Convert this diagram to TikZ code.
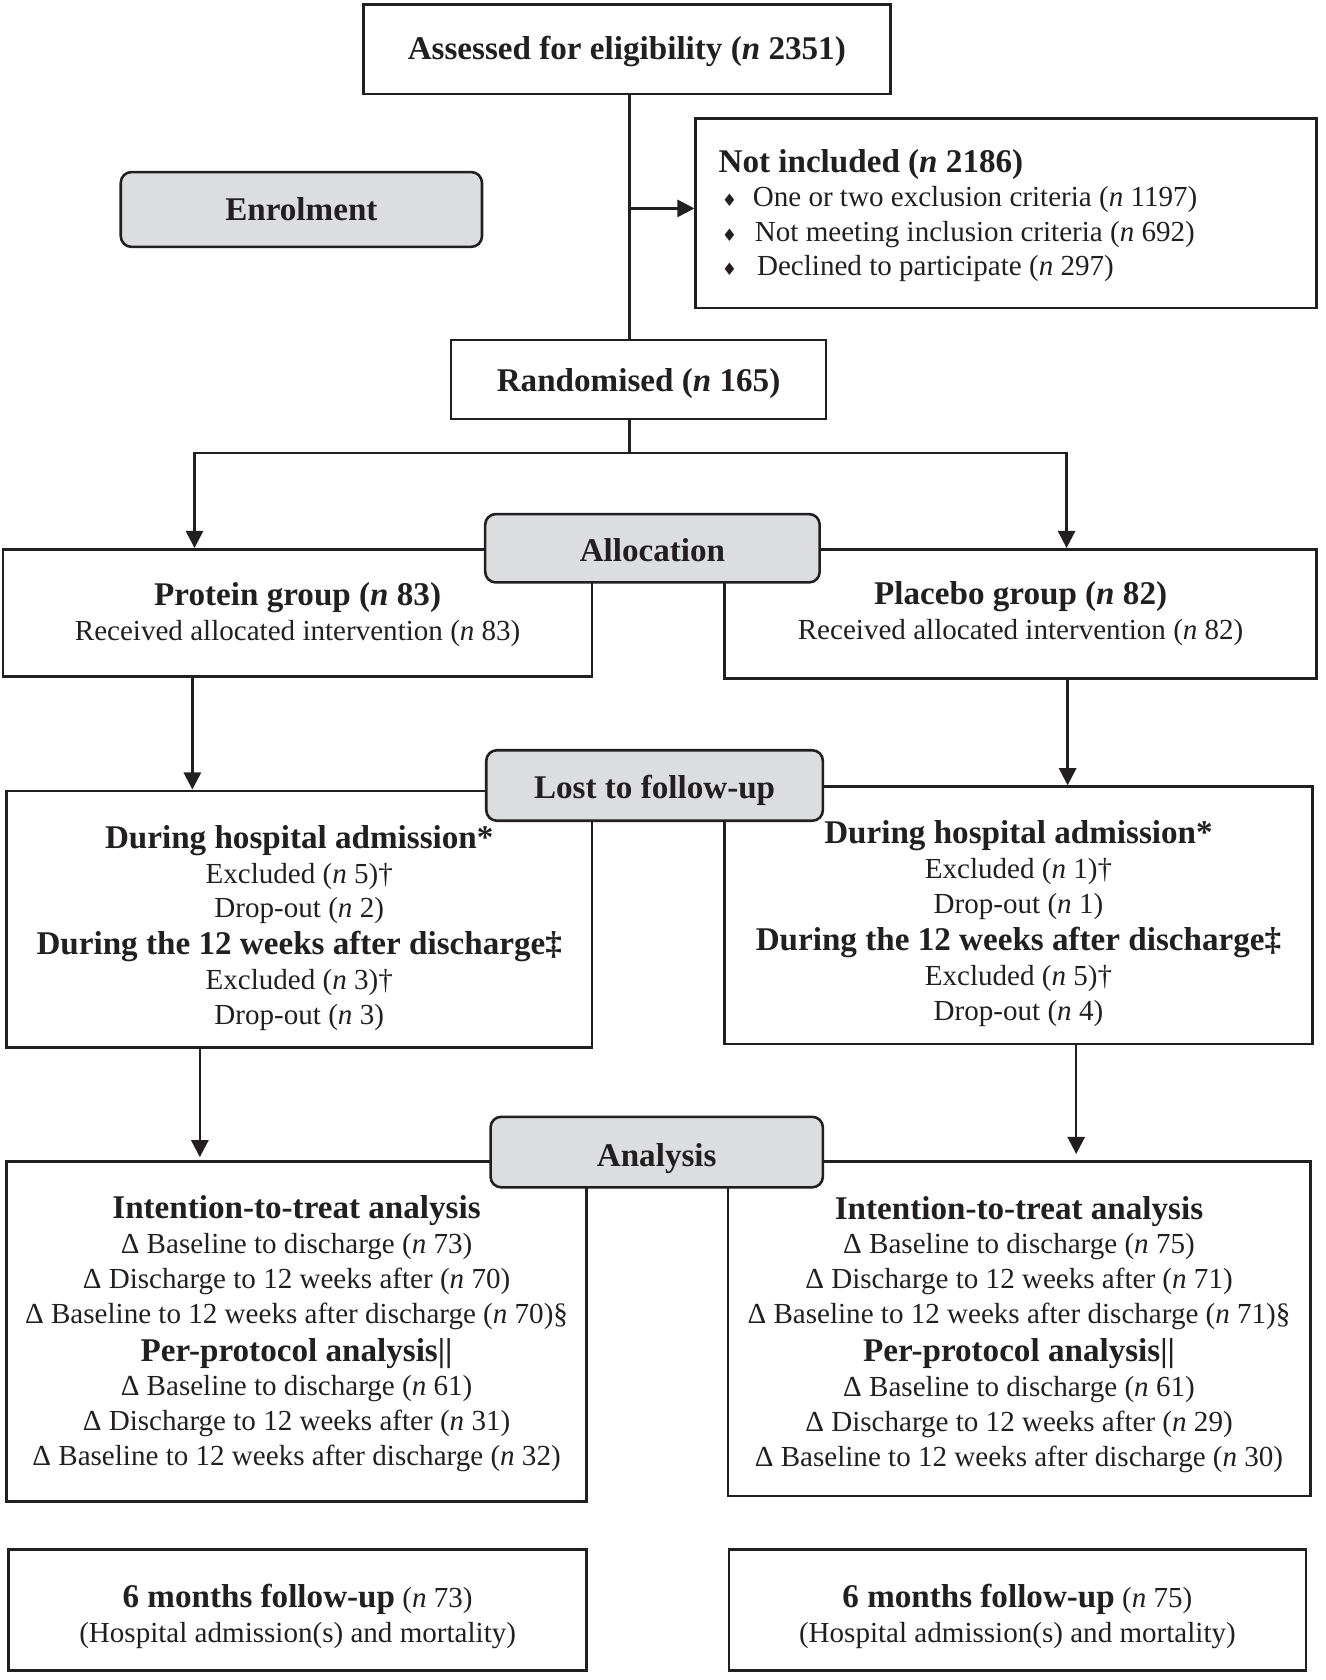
\documentclass[tikz,border=0pt]{standalone}
\usepackage{fontspec}
\setmainfont{Liberation Serif}
\newfontfamily\dejavu{DejaVu Sans}
\usetikzlibrary{arrows.meta}
\definecolor{ink}{HTML}{231F20}
\definecolor{boxgray}{HTML}{DCDDDF}
\newcommand\plainf{\fontsize{13.6}{16.3}\selectfont}
\newcommand\boldf{\fontsize{15.5}{16.3}\selectfont\bfseries}
\newcommand\hb[1]{{\boldf #1}}
\newcommand\nn{\textit{n}}
\newcommand\dia[1]{\makebox[#1][l]{\hspace{1.5pt}{\dejavu\fontsize{8}{8}\selectfont ♦}}}
\begin{document}
\begin{tikzpicture}[x=0.5pt,y=-0.5pt,
  box/.style={draw=ink, line width=1.2pt, fill=white, rectangle, inner sep=0pt},
  gbox/.style={draw=ink, line width=1.2pt, fill=boxgray, rounded corners=5pt, inner sep=0pt},
  txt/.style={inner sep=0pt, align=center, font=\plainf, text=ink},
  gtxt/.style={inner sep=0pt, align=center, font=\boldf, text=ink},
  conn/.style={draw=ink, line width=1.2pt},
  tip/.tip={Triangle[length=8pt,width=8pt]},
  arr/.style={conn, -tip}]
\useasboundingbox (0,0) rectangle (1240,1572);
\fill[white] (0,0) rectangle (1240,1572);

% white boxes
\node[box, minimum width=246.5pt, minimum height=42pt] (assess) at (586.5,46) {};
\node[txt] (assesst) at ([yshift=-1pt]assess.center) {\hb{Assessed for eligibility (\nn{} 2351)}};

\node[box, minimum width=290.5pt, minimum height=88.5pt] (notinc) at (941.5,199.5) {};
\node[anchor=west, align=left, inner sep=0pt, font=\fontsize{13.6}{16}\selectfont, text=ink] (notinctext) at (672,201.5)
  {\hb{Not included (\nn{} 2186)}\\[0.3pt]
   \dia{16pt}One or two exclusion criteria (\nn{} 1197)\\
   \dia{17pt}Not meeting inclusion criteria (\nn{} 692)\\
   \dia{18pt}Declined to participate (\nn{} 297)};

\node[box, minimum width=175.5pt, minimum height=37pt] (rand) at (597.5,355) {};
\node[txt] (randt) at ([yshift=-2pt]rand.center) {\hb{Randomised (\nn{} 165)}};

\node[box, minimum width=275.5pt, minimum height=59.5pt] (protein) at (278.5,573.5) {};
\node[txt] (proteint) at ([yshift=-0.8pt]protein.center)
  {\hb{Protein group (\nn{} 83)}\\Received allocated intervention (\nn{} 83)};

\node[box, minimum width=277pt, minimum height=60.5pt] (placebo) at (955,574.5) {};
\node[txt] (placebot) at (placebo.center)
  {\hb{Placebo group (\nn{} 82)}\\Received allocated intervention (\nn{} 82)};

\node[box, minimum width=274pt, minimum height=120pt] (lostL) at (280,860) {};
\node[txt] (lostLt) at ([yshift=-4.2pt]lostL.center)
  {\hb{During hospital admission*}\\Excluded (\nn{} 5)†\\Drop-out (\nn{} 2)\\[1pt]
   \hb{During the 12 weeks after discharge‡}\\Excluded (\nn{} 3)†\\Drop-out (\nn{} 3)};

\node[box, minimum width=275pt, minimum height=120.5pt] (lostR) at (953,856.5) {};
\node[txt] (lostRt) at ([yshift=-3.8pt]lostR.center)
  {\hb{During hospital admission*}\\Excluded (\nn{} 1)†\\Drop-out (\nn{} 1)\\[1pt]
   \hb{During the 12 weeks after discharge‡}\\Excluded (\nn{} 5)†\\Drop-out (\nn{} 4)};

\node[box, minimum width=271.5pt, minimum height=159pt] (anaL) at (277.5,1246) {};
\node[txt] (anaLt) at ([yshift=-1pt]anaL.center)
  {\hb{Intention-to-treat analysis}\\
   Δ Baseline to discharge (\nn{} 73)\\
   Δ Discharge to 12 weeks after (\nn{} 70)\\
   Δ Baseline to 12 weeks after discharge (\nn{} 70)§\\[1.5pt]
   \hb{Per-protocol analysis||}\\
   Δ Baseline to discharge (\nn{} 61)\\
   Δ Discharge to 12 weeks after (\nn{} 31)\\
   Δ Baseline to 12 weeks after discharge (\nn{} 32)};

\node[box, minimum width=272.5pt, minimum height=156.5pt] (anaR) at (953.5,1243.5) {};
\node[txt] (anaRt) at ([yshift=-2.5pt]anaR.center)
  {\hb{Intention-to-treat analysis}\\
   Δ Baseline to discharge (\nn{} 75)\\
   Δ Discharge to 12 weeks after (\nn{} 71)\\
   Δ Baseline to 12 weeks after discharge (\nn{} 71)§\\[1.5pt]
   \hb{Per-protocol analysis||}\\
   Δ Baseline to discharge (\nn{} 61)\\
   Δ Discharge to 12 weeks after (\nn{} 29)\\
   Δ Baseline to 12 weeks after discharge (\nn{} 30)};

\node[box, minimum width=270.5pt, minimum height=56.5pt] (fuL) at (278.5,1506.5) {};
\node[txt] (fuLt) at ([yshift=-3pt]fuL.center)
  {\hb{6 months follow-up} (\nn{} 73)\\(Hospital admission(s) and mortality)};

\node[box, minimum width=270pt, minimum height=56.5pt] (fuR) at (952,1506.5) {};
\node[txt] (fuRt) at ([yshift=-3pt]fuR.center)
  {\hb{6 months follow-up} (\nn{} 75)\\(Hospital admission(s) and mortality)};

% grey stage labels
\node[gbox, minimum width=169pt, minimum height=35pt] (enrol) at (282,196) {};
\node[gtxt] (enrolt) at (enrol.center) {Enrolment};
\node[gbox, minimum width=156.5pt, minimum height=32pt] (alloc) at (610.5,513) {};
\node[gtxt] (alloct) at ([yshift=-1pt]alloc.center) {Allocation};
\node[gbox, minimum width=157.5pt, minimum height=33pt] (lost) at (612.5,735) {};
\node[gtxt] (lostt) at ([yshift=-2.5pt]lost.center) {Lost to follow-up};
\node[gbox, minimum width=155.5pt, minimum height=33pt] (ana) at (614.5,1078) {};
\node[gtxt] (anat) at ([yshift=-3pt]ana.center) {Analysis};

% connectors
\coordinate (tk) at (589,195);
\coordinate (sp) at (589,424);
\coordinate (spL) at (182,424);
\coordinate (spR) at (998,424);
\draw[conn] (tk |- assess.south) -- (tk |- rand.north);
\draw[arr] (tk) -- (tk -| notinc.west);
\draw[conn] (tk |- rand.south) -- (sp);
\draw[conn, tip-tip] (spL |- protein.north) |- (sp) -| (spR |- placebo.north);
\coordinate (aL1) at (180,0);
\coordinate (aR1) at (999,0);
\coordinate (aL2) at (187,0);
\coordinate (aR2) at (1007,0);
\draw[arr] (aL1 |- protein.south) -- (aL1 |- lostL.north);
\draw[arr] (aR1 |- placebo.south) -- (aR1 |- lostR.north);
\draw[arr] (aL2 |- lostL.south) -- ([yshift=1.5pt]aL2 |- anaL.north);
\draw[arr] (aR2 |- lostR.south) -- ([yshift=3pt]aR2 |- anaR.north);
\end{tikzpicture}
\end{document}
